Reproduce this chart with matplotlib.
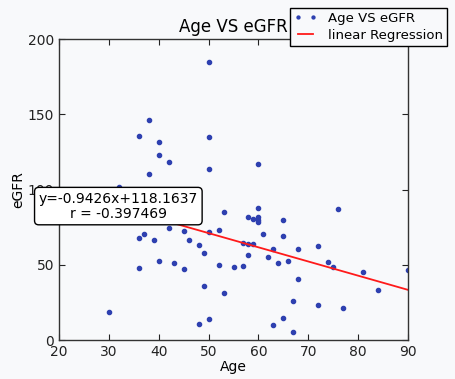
import matplotlib
matplotlib.use('Agg')
import matplotlib.pyplot as plt

# valores
edad = [30, 32, 36, 36, 36, 37, 38, 38, 39, 40, 40, 40, 42, 42, 43, 45, 45,
        46, 48, 48, 49, 49, 50, 50, 50, 50, 50, 52, 52, 53, 53, 55, 57, 57,
        58, 58, 58, 59, 59, 60, 60, 60, 60, 60, 61, 62, 63, 63, 64, 65, 65,
        65, 66, 67, 67, 68, 68, 72, 72, 74, 75, 76, 77, 81, 84, 90]
egfr = [18.6, 101.5, 135.7, 68, 47.6, 70.5, 146, 110, 66.4, 131.8, 123, 52.3,
        118, 74.4, 51.3, 72.6, 47, 66.4, 62.9, 10.6, 58, 35.7, 185, 135.1,
        113.6, 71.6, 14.2, 73.2, 50, 85, 31.2, 48.7, 64.8, 49.4, 81.7, 63.7,
        56.7, 80.5, 63.7, 117, 88, 81.6, 80, 78.5, 70.5, 55, 60.8, 10, 51.1,
        80, 69.3, 14.6, 52.4, 26.1, 5.1, 60.7, 40.3, 62.5, 23, 52, 48.3, 86.8,
        21.5, 45.4, 33.4, 46.5]

# coeficientes mostrados en la grafica
pendiente = -0.9426
ordenada = 118.1637
r_valor = -0.397469

x_ticks = [20, 30, 40, 50, 60, 70, 80, 90]
y_ticks = [0, 50, 100, 150, 200]

fondo = '#f8f9fb'
plt.rcParams['font.size'] = 10
plt.rcParams['xtick.direction'] = 'in'
plt.rcParams['ytick.direction'] = 'in'
plt.rcParams['xtick.top'] = True
plt.rcParams['ytick.right'] = True

fig = plt.figure(figsize=(4.55, 3.79), dpi=100, facecolor=fondo)
ax = fig.add_axes([0.1297, 0.1029, 0.767, 0.794], facecolor=fondo)

ax.plot(edad, egfr, 'o', color='#2e40b0', markersize=3.0, label='Age VS eGFR')
x_linea = [min(edad), max(edad)]
y_linea = [pendiente * x + ordenada for x in x_linea]
ax.plot(x_linea, y_linea, '-', color='#ff1a1a', linewidth=1.3, label='linear Regression')

ax.set_xlim(20, 90)
ax.set_ylim(0, 200)
ax.set_xticks(x_ticks)
ax.set_yticks(y_ticks)
ax.tick_params(length=4, width=0.8, colors='#222222', labelsize=10)
for s in ax.spines.values():
    s.set_color('#333333')
    s.set_linewidth(1.0)

ax.set_title('Age VS eGFR', fontsize=12, pad=5)
ax.set_xlabel('Age', labelpad=1)
ax.set_ylabel('eGFR', labelpad=2)

texto = 'y=%.4fx+%.4f\nr = %.6f' % (pendiente, ordenada, r_valor)
ax.text(31.9, 89, texto, ha='center', va='center', fontsize=10, linespacing=1.1,
        bbox=dict(boxstyle='round,pad=0.3', facecolor='white', edgecolor='black', linewidth=1))

leg = ax.legend(loc='upper right', bbox_to_anchor=(0.982, 0.979), bbox_transform=fig.transFigure,
                borderaxespad=0, numpoints=2, fancybox=False, fontsize=9.5, markerscale=0.7,
                handlelength=1.8, borderpad=0.3, labelspacing=0.3)
leg.get_frame().set_edgecolor('black')
leg.get_frame().set_facecolor(fondo)
leg.get_frame().set_alpha(1)

plt.savefig('out.png', dpi=100, facecolor=fondo)
